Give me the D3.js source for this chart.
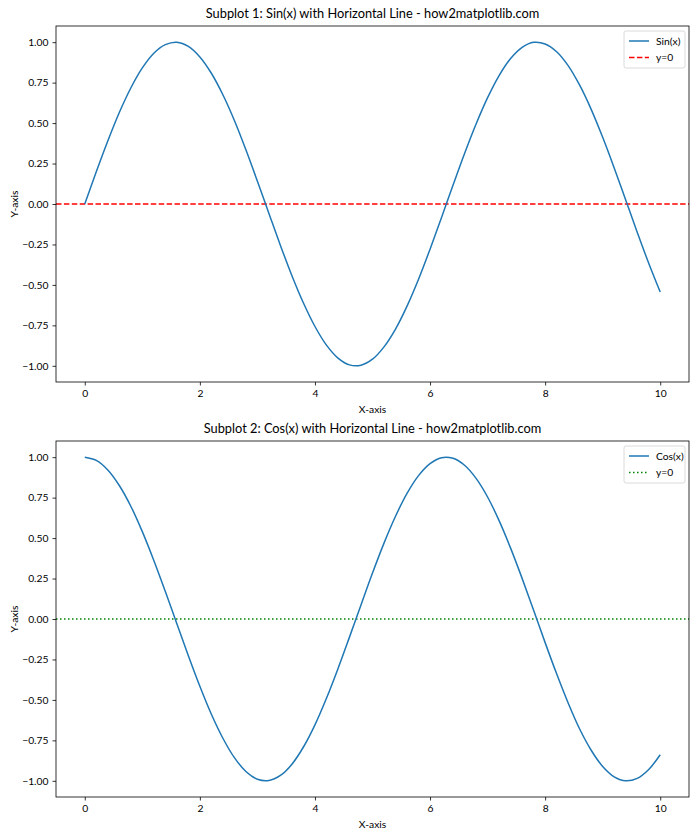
<!DOCTYPE html>
<html>
<head>
<meta charset="utf-8">
<script src="https://cdn.jsdelivr.net/npm/d3@7"></script>
<style>
  body { margin: 0; background: #fff; }
  text { font-family: Lato, "Noto Sans", sans-serif; fill: #000; }
</style>
</head>
<body>
<div id="chart"></div>
<script>
// x samples, step 0.2 from 0 to 10
const xValues = [0, 0.2, 0.4, 0.6, 0.8, 1.0, 1.2, 1.4, 1.6, 1.8, 2.0, 2.2, 2.4, 2.6, 2.8, 3.0,
  3.2, 3.4, 3.6, 3.8, 4.0, 4.2, 4.4, 4.6, 4.8, 5.0, 5.2, 5.4, 5.6, 5.8, 6.0, 6.2, 6.4, 6.6,
  6.8, 7.0, 7.2, 7.4, 7.6, 7.8, 8.0, 8.2, 8.4, 8.6, 8.8, 9.0, 9.2, 9.4, 9.6, 9.8, 10.0];

const sinValues = [0, 0.199, 0.389, 0.565, 0.717, 0.841, 0.932, 0.985, 1.000, 0.974, 0.909,
  0.808, 0.675, 0.516, 0.335, 0.141, -0.058, -0.256, -0.443, -0.612, -0.757, -0.872, -0.952,
  -0.994, -0.996, -0.959, -0.883, -0.773, -0.631, -0.465, -0.279, -0.083, 0.117, 0.312, 0.494,
  0.657, 0.794, 0.899, 0.968, 0.999, 0.989, 0.941, 0.855, 0.734, 0.585, 0.412, 0.223, 0.025,
  -0.174, -0.366, -0.544];

const cosValues = [1.000, 0.980, 0.921, 0.825, 0.697, 0.540, 0.362, 0.170, -0.029, -0.227,
  -0.416, -0.589, -0.737, -0.857, -0.942, -0.990, -0.998, -0.967, -0.897, -0.791, -0.654,
  -0.490, -0.307, -0.112, 0.087, 0.284, 0.469, 0.635, 0.776, 0.886, 0.960, 0.997, 0.993, 0.950,
  0.869, 0.754, 0.608, 0.438, 0.251, 0.054, -0.146, -0.339, -0.519, -0.680, -0.811, -0.911,
  -0.975, -1.000, -0.985, -0.930, -0.839];

const xTicks = [0, 2, 4, 6, 8, 10];
const yTicks = [-1.00, -0.75, -0.50, -0.25, 0.00, 0.25, 0.50, 0.75, 1.00];

const panels = [
  { title: "Subplot 1: Sin(x) with Horizontal Line - how2matplotlib.com", values: sinValues,
    label: "Sin(x)", refLabel: "y=0", refColor: "#ff0000", refDash: "5.5,2.4", top: 26 },
  { title: "Subplot 2: Cos(x) with Horizontal Line - how2matplotlib.com", values: cosValues,
    label: "Cos(x)", refLabel: "y=0", refColor: "#008000", refDash: "1.5,2.5", top: 441 }
];

const W = 700, H = 840;
const left = 56, right = 689, plotH = 356;

const svg = d3.select("#chart").append("svg")
  .attr("width", W)
  .attr("height", H);

const x = d3.scaleLinear().domain([-0.5, 10.5]).range([left, right]);

panels.forEach(p => {
  const y = d3.scaleLinear().domain([-1.1, 1.1]).range([p.top + plotH, p.top]);
  const g = svg.append("g");

  // title
  g.append("text")
    .attr("x", (left + right) / 2)
    .attr("y", p.top - 8)
    .attr("text-anchor", "middle")
    .style("font-size", "12.8px")
    .text(p.title);

  // reference line
  g.append("line")
    .attr("x1", left).attr("x2", right)
    .attr("y1", y(0)).attr("y2", y(0))
    .attr("stroke", p.refColor)
    .attr("stroke-width", 1.5)
    .attr("stroke-dasharray", p.refDash);

  // curve
  const line = d3.line()
    .x((d, i) => x(xValues[i]))
    .y(d => y(d))
    .curve(d3.curveCatmullRom);

  g.append("path")
    .datum(p.values)
    .attr("d", line)
    .attr("fill", "none")
    .attr("stroke", "#1f77b4")
    .attr("stroke-width", 1.5);

  // axes
  const xAxis = g.append("g")
    .attr("transform", `translate(0,${p.top + plotH})`)
    .call(d3.axisBottom(x).tickValues(xTicks).tickSize(3.5).tickPadding(4).tickFormat(d3.format("d")));
  const yAxis = g.append("g")
    .attr("transform", `translate(${left},0)`)
    .call(d3.axisLeft(y).tickValues(yTicks).tickSize(3.5).tickPadding(4).tickFormat(d3.format(".2f")));
  [xAxis, yAxis].forEach(a => {
    a.select(".domain").remove();
    a.selectAll("text").style("font-size", "10.3px").attr("fill", "#000");
    a.selectAll("line").attr("stroke", "#000").attr("stroke-width", 0.8);
  });

  // frame
  g.append("rect")
    .attr("x", left).attr("y", p.top)
    .attr("width", right - left).attr("height", plotH)
    .attr("fill", "none")
    .attr("stroke", "#000")
    .attr("stroke-width", 0.8);

  // axis labels
  g.append("text")
    .attr("x", (left + right) / 2)
    .attr("y", p.top + plotH + 31)
    .attr("text-anchor", "middle")
    .style("font-size", "10.3px")
    .text("X-axis");
  g.append("text")
    .attr("transform", `translate(18,${p.top + plotH / 2}) rotate(-90)`)
    .attr("text-anchor", "middle")
    .style("font-size", "10.3px")
    .text("Y-axis");

  // legend
  const lg = g.append("g").attr("transform", `translate(624,${p.top + 5})`);
  lg.append("rect")
    .attr("width", 61).attr("height", 37)
    .attr("rx", 2)
    .attr("fill", "#fff").attr("fill-opacity", 0.8)
    .attr("stroke", "#d0d0d0").attr("stroke-width", 0.8);
  const items = [
    { label: p.label, color: "#1f77b4", dash: null },
    { label: p.refLabel, color: p.refColor, dash: p.refDash }
  ];
  items.forEach((it, i) => {
    const yy = 10 + i * 16.5;
    lg.append("line")
      .attr("x1", 5).attr("x2", 25)
      .attr("y1", yy).attr("y2", yy)
      .attr("stroke", it.color)
      .attr("stroke-width", 1.5)
      .attr("stroke-dasharray", it.dash);
    lg.append("text")
      .attr("x", 32).attr("y", yy)
      .attr("dy", "0.35em")
      .style("font-size", "10.3px")
      .text(it.label);
  });
});
</script>
</body>
</html>
